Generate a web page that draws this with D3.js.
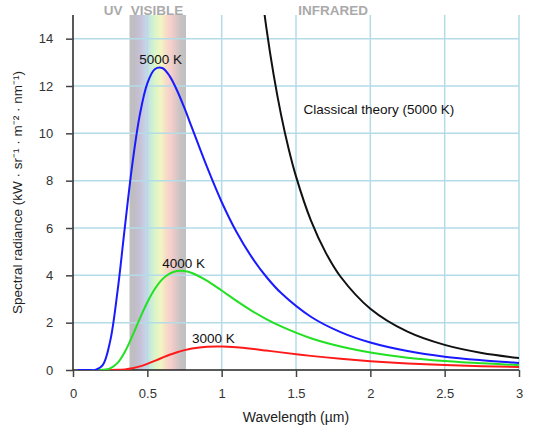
<!DOCTYPE html>
<html><head><meta charset="utf-8">
<script src="https://cdn.jsdelivr.net/npm/d3@7"></script>
<style>
body{margin:0;background:#fff;}
text{font-family:"Liberation Sans",Arial,sans-serif;}
</style></head>
<body>
<svg id="c" width="538" height="430"></svg>
<script>
// wavelengths (µm) sampled for the Planck curves
const wavelengths = [0.03,0.1,0.15,0.2,0.25,0.3,0.35,0.4,0.45,0.5,0.55,0.6,0.65,0.7,0.75,0.8,0.9,1.0,1.1,1.2,1.3,1.4,1.6,1.8,2.0,2.25,2.5,2.75,3.0];
const t5000 = [0,0,0.007,0.21,1.22,3.35,6.10,8.74,10.80,12.11,12.71,12.76,12.42,11.81,11.06,10.24,8.60,7.10,5.83,4.79,3.94,3.25,2.25,1.60,1.16,0.80,0.56,0.41,0.30];
const t4000 = [0,0,0,0.006,0.069,0.30,0.78,1.45,2.18,2.86,3.42,3.83,4.07,4.18,4.18,4.10,3.78,3.36,2.92,2.51,2.15,1.84,1.34,0.99,0.74,0.52,0.38,0.28,0.21];
const t3000 = [0,0,0,0,0.001,0.006,0.025,0.072,0.152,0.260,0.387,0.517,0.642,0.751,0.840,0.908,0.983,0.992,0.957,0.896,0.822,0.745,0.597,0.472,0.372,0.278,0.210,0.160,0.124];
// classical (Rayleigh-Jeans) curve at 5000 K
const classicalWl = [1.25,1.3,1.35,1.4,1.45,1.5,1.6,1.7,1.8,2.0,2.25,2.5,2.75,3.0];
const classicalVal = [16.95,14.49,12.46,10.77,9.36,8.18,6.32,4.96,3.94,2.59,1.62,1.06,0.72,0.51];
const xTicks = [0,0.5,1,1.5,2,2.5,3];
const yTicks = [0,2,4,6,8,10,12,14];
const curveLabels = ["5000 K","4000 K","3000 K","Classical theory (5000 K)"];
const bandLabels = ["UV","VISIBLE","INFRARED"];
const visibleRange = [0.38,0.76];

const svg = d3.select("#c");
const L=73, R=519, T=15, B=370;
const x = d3.scaleLinear().domain([0,3]).range([L,R]);
const y = d3.scaleLinear().domain([0,15]).range([B,T]);

const defs = svg.append("defs");
defs.append("clipPath").attr("id","clip").append("rect")
  .attr("x",L).attr("y",T).attr("width",R-L).attr("height",B-T);
const grad = defs.append("linearGradient").attr("id","vis").attr("x1","0").attr("x2","1").attr("y1","0").attr("y2","0");
[[0,"#bfbfbf"],[0.08,"#bfbdc2"],[0.18,"#c6c0d6"],[0.28,"#c8d2e6"],[0.37,"#c8eadc"],[0.46,"#dcf6c6"],[0.56,"#f4f4c2"],[0.65,"#f6dcc8"],[0.74,"#f6cdca"],[0.84,"#d8c6c6"],[0.92,"#c4c1c1"],[1,"#c0c0c0"]]
  .forEach(([o,c])=>grad.append("stop").attr("offset",o).attr("stop-color",c));

// visible band
svg.append("rect").attr("x",x(visibleRange[0])).attr("y",T)
  .attr("width",x(visibleRange[1])-x(visibleRange[0])).attr("height",B-T)
  .attr("fill","url(#vis)");

// grid
const gridC = "#b3dbe8";
svg.append("g").selectAll("line").data(xTicks.filter(d=>d>0)).join("line")
  .attr("x1",d=>x(d)).attr("x2",d=>x(d)).attr("y1",T).attr("y2",B)
  .attr("stroke",gridC).attr("stroke-width",1.5);
svg.append("g").selectAll("line").data(yTicks.filter(d=>d>0)).join("line")
  .attr("x1",L).attr("x2",R).attr("y1",d=>y(d)).attr("y2",d=>y(d))
  .attr("stroke",gridC).attr("stroke-width",1.5);

// axes
const xAxis = svg.append("g").attr("transform",`translate(0,${B})`)
  .call(d3.axisBottom(x).tickValues(xTicks).tickFormat(d3.format("")).tickSize(7).tickSizeOuter(0));
const yAxis = svg.append("g").attr("transform",`translate(${L},0)`)
  .call(d3.axisLeft(y).tickValues(yTicks).tickSize(7).tickSizeOuter(0));
[xAxis,yAxis].forEach(a=>{
  a.attr("font-size",13).attr("font-family","'Liberation Sans',Arial,sans-serif");
  a.select(".domain").attr("stroke","#222").attr("stroke-width",1.5);
  a.selectAll(".tick line").attr("stroke","#444").attr("stroke-width",1.5);
  a.selectAll(".tick text").attr("font-size",13).attr("fill","#333");
});
xAxis.selectAll(".tick text").attr("dy","1.4em");
yAxis.selectAll(".tick text").attr("dx","-0.75em");
yAxis.select(".domain").attr("d",`M0,${B}V${T}`);
xAxis.select(".domain").attr("d",`M${L},0H${R}`);

// curves
const line = d3.line().x(d=>x(d[0])).y(d=>y(d[1])).curve(d3.curveCatmullRom.alpha(0.5));
const g = svg.append("g").attr("clip-path","url(#clip)");
[[t3000,"#ff1a1a"],[t4000,"#22e022"],[t5000,"#1a1aff"]].forEach(([vals,col])=>{
  g.append("path").datum(wavelengths.map((w,i)=>[w,vals[i]]))
   .attr("d",line).attr("fill","none").attr("stroke",col).attr("stroke-width",2);
});
g.append("path").datum(classicalWl.map((w,i)=>[w,classicalVal[i]]))
  .attr("d",line).attr("fill","none").attr("stroke","#111").attr("stroke-width",2);

// curve labels
const lab = [[curveLabels[0],0.445,12.95],[curveLabels[1],0.6,4.3],[curveLabels[2],0.8,1.15],[curveLabels[3],1.55,10.8]];
svg.append("g").selectAll("text").data(lab).join("text")
  .attr("x",d=>x(d[1])).attr("y",d=>y(d[2])).text(d=>d[0])
  .attr("font-size",13.5).attr("fill","#111");

// region labels
const reg = [[bandLabels[0],0.27],[bandLabels[1],0.565],[bandLabels[2],1.75]];
svg.append("g").selectAll("text").data(reg).join("text")
  .attr("x",d=>x(d[1])).attr("y",15).attr("text-anchor","middle").text(d=>d[0])
  .attr("font-size",13.5).attr("font-weight","bold").attr("fill","#aaa");

// axis titles
svg.append("text").attr("x",(L+R)/2).attr("y",422).attr("text-anchor","middle")
  .attr("font-size",14).attr("fill","#222").text("Wavelength (µm)");
svg.append("text").attr("transform",`translate(22,${(T+B)/2}) rotate(-90)`)
  .attr("text-anchor","middle").attr("font-size",13.5).attr("fill","#222")
  .text("Spectral radiance (kW · sr⁻¹ · m⁻² · nm⁻¹)");
</script>
</body></html>
